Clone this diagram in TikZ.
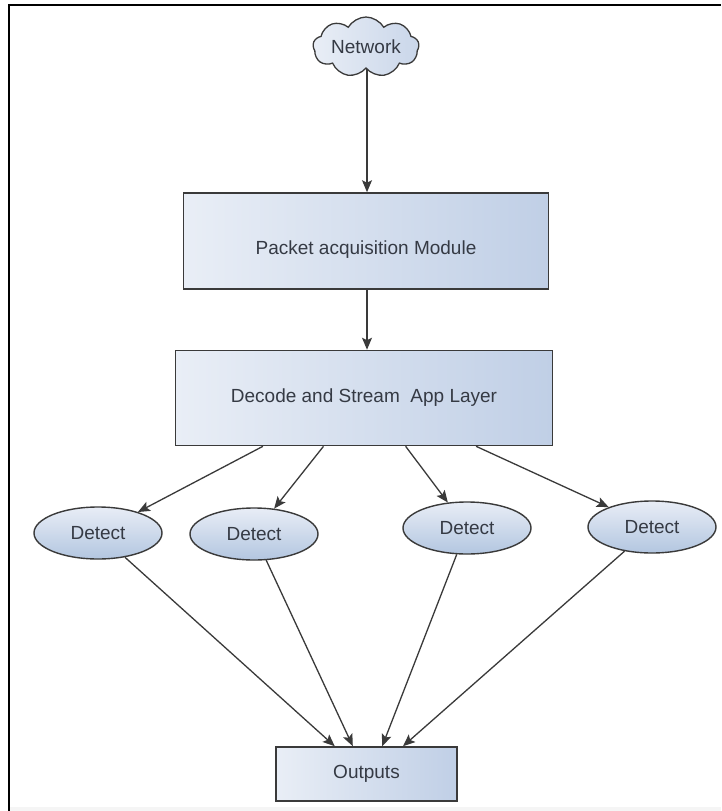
\documentclass[tikz,border=0pt]{standalone}
\usepackage{fontspec}
\setmainfont{Liberation Sans}
\usetikzlibrary{shapes.geometric,shapes.symbols,arrows.meta,calc}

\definecolor{edge}{HTML}{3A3A3A}
\definecolor{ink}{HTML}{353A44}
\definecolor{fillL}{HTML}{E9EEF6}
\definecolor{fillR}{HTML}{C0CFE6}
\definecolor{ellL}{HTML}{E8EDF6}
\definecolor{ellR}{HTML}{B3C6E0}

\tikzset{
  txt/.style={font=\fontsize{19}{22}\selectfont, text=ink, inner sep=0pt},
  block/.style={draw=edge, line width=1.6pt, left color=fillL, right color=fillR,
    rectangle, inner sep=0pt, txt},
  detect/.style={draw=edge, line width=1.4pt, ellipse, shading angle=135,
    top color=ellL, bottom color=ellR, minimum width=128pt, minimum height=52pt,
    inner sep=0pt, txt},
  netcloud/.style={draw=edge, line width=1.3pt, cloud, cloud puffs=9, cloud puff arc=120,
    left color=fillL, right color=fillR!85!white, minimum width=106pt, minimum height=60pt,
    inner sep=0pt},
  flow/.style={draw=edge, line width=1.3pt, -{Stealth[length=12pt,width=10pt,inset=2.5pt]}},
}

\begin{document}
\begin{tikzpicture}[x=1pt,y=-1pt]
  \useasboundingbox (0,0) rectangle (721,811);
  \fill[white] (0,0) rectangle (721,811);
  \fill[black!4] (10,807) rectangle (721,811);
  % page frame: top and left rules only
  \draw[line width=2pt, black] (9,811) -- (9,5) -- (721,5);

  % source and processing stages
  \node[netcloud, label={[txt]center:Network}] (net) at (366,47) {};
  \node[block, minimum width=365pt, minimum height=96pt,
        label={[txt,yshift=-9pt]center:Packet acquisition Module}] (acq) at (366,241) {};
  \node[block, minimum width=377pt, minimum height=95pt] (dec) at (364,398)
        {Decode and Stream\ \ App Layer};

  % detection engines
  \node[detect] (d1) at (98,533) {Detect};
  \node[detect] (d2) at (254,534) {Detect};
  \node[detect] (d3) at (467,528) {Detect};
  \node[detect] (d4) at (652,527) {Detect};

  % sink
  \node[block, minimum width=181pt, minimum height=54pt] (out) at (366.5,774) {Outputs};

  % vertical pipeline
  \coordinate (netout) at ($(net.south)+(1,0)$);
  \coordinate (acqout) at ($(acq.south)+(1,0)$);
  \draw[flow] (netout) -- (netout |- acq.north);
  \draw[flow] (acqout) -- (acqout |- dec.north);

  % fan-out to detectors
  \draw[flow] ($(dec.south west)!0.233!(dec.south east)$) -- (d1);
  \draw[flow] ($(dec.south west)!0.393!(dec.south east)$) -- (d2);
  \draw[flow] ($(dec.south west)!0.610!(dec.south east)$) -- (d3);
  \draw[flow] ($(dec.south west)!0.796!(dec.south east)$) -- (d4);

  % fan-in to outputs
  \draw[flow] (d1) -- ($(out.north west)!0.326!(out.north east)$);
  \draw[flow] (d2) -- ($(out.north west)!0.425!(out.north east)$);
  \draw[flow] (d3) -- ($(out.north west)!0.586!(out.north east)$);
  \draw[flow] (d4) -- ($(out.north west)!0.700!(out.north east)$);
\end{tikzpicture}
\end{document}
